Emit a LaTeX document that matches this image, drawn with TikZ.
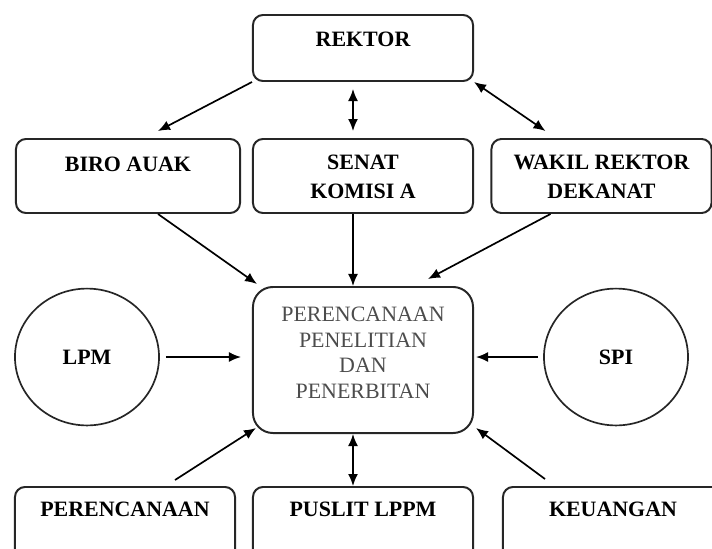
\documentclass[tikz,border=0pt]{standalone}
\usepackage{fontspec}
\setmainfont{Liberation Serif}
\usetikzlibrary{shapes.geometric,arrows.meta,calc}

\begin{document}
\begin{tikzpicture}[x=0.025cm,y=-0.025cm,
  box/.style={draw=black!85,line width=1.4pt,rounded corners=0.25cm,minimum width=5.5cm,inner sep=0pt},
  ring/.style={draw=black!85,line width=1.2pt,ellipse,minimum width=3.6cm,minimum height=3.42cm,inner sep=0pt,
    font=\bfseries\fontsize{15.6}{18}\selectfont},
  lbl/.style={anchor=north,inner sep=0pt,align=center,font=\bfseries\fontsize{15.6}{20.6}\selectfont},
  arr/.style={line width=1.2pt,-{Latex[length=0.3cm,width=0.25cm]}},
  darr/.style={line width=1.2pt,{Latex[length=0.3cm,width=0.25cm]}-{Latex[length=0.3cm,width=0.25cm]}}]
\useasboundingbox (0,0) rectangle (712,548);
\clip (0,0) rectangle (712,548);

\node[box,minimum height=1.65cm] (rektor) at (363,48) {};
\node[lbl] (rektorlbl) at ($(rektor.north)+(0,17.5)$) {REKTOR};

\node[box,minimum width=5.6cm,minimum height=1.85cm] (biro) at (128,176) {};
\node[lbl] (birolbl) at ($(biro.north)+(0,18.5)$) {BIRO AUAK};
\node[box,minimum height=1.85cm] (senat) at (363,176) {};
\node[lbl] (senatlbl) at ($(senat.north)+(0,16.5)$) {SENAT\\KOMISI A};
\node[box,minimum height=1.85cm] (wakil) at (601.5,176) {};
\node[lbl] (wakillbl) at ($(wakil.north)+(0,16.5)$) {WAKIL REKTOR\\DEKANAT};

\node[box,rounded corners=0.5cm,minimum height=3.65cm] (perpen) at (363,360) {};
\node[lbl,font=\fontsize{15.6}{18.3}\selectfont,text=black!70] (perpenlbl) at ($(perpen.north)+(0,20.5)$)
  {PERENCANAAN\\PENELITIAN\\DAN\\PENERBITAN};

\node[ring] (lpm) at (87,357) {LPM};
\node[ring] (spi) at (616,357) {SPI};

\node[box,minimum height=2cm] (perenc) at (125,527) {};
\node[lbl] (perenclbl) at ($(perenc.north)+(0,15.5)$) {PERENCANAAN};
\node[box,minimum height=2cm] (puslit) at (363,527) {};
\node[lbl] (puslitlbl) at ($(puslit.north)+(0,15.5)$) {PUSLIT LPPM};
\node[box,minimum height=2cm] (keuang) at (613,527) {};
\node[lbl] (keuanglbl) at ($(keuang.north)+(0,15.5)$) {KEUANGAN};

\draw[arr] (rektor.south west) -- ($(biro.north)+(30,-7)$);
\draw[darr] ($(rektor.south)+(-10,7)$) -- ($(senat.north)+(-10,-7)$);
\draw[darr] (rektor.south east) -- ($(wakil.north)+(-56,-7)$);

\draw[arr] ($(biro.south)+(30,0)$) -- ($(perpen.north west)+(5,-2)$);
\draw[arr] ($(senat.south)+(-10,0)$) -- ($(perpen.north)+(-10,0)$);
\draw[arr] ($(wakil.south)+(-51,0)$) -- ($(perpen.north)+(65,-7)$);

\draw[arr] ($(lpm.east)+(6,0)$) -- ($(perpen.west)+(-11,-3)$);
\draw[arr] ($(spi.west)+(-5,0)$) -- ($(perpen.east)+(2,-3)$);

\draw[arr] ($(perenc.north)+(50,-6)$) -- ($(perpen.south west)+(4,-6)$);
\draw[darr] ($(perpen.south)+(-10,0)$) -- ($(puslit.north)+(-10,0)$);
\draw[arr] ($(keuang.north)+(-68,-7)$) -- ($(perpen.south east)+(2,-6)$);
\end{tikzpicture}
\end{document}
